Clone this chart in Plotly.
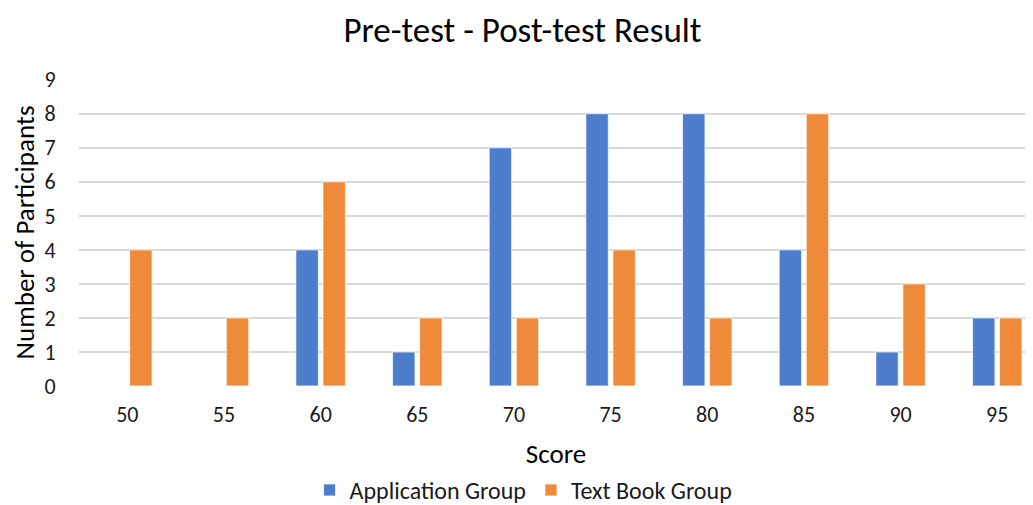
import plotly.graph_objects as go

scores = ["50", "55", "60", "65", "70", "75", "80", "85", "90", "95"]
application_group = [0, 0, 4, 1, 7, 8, 8, 4, 1, 2]
text_book_group = [4, 2, 6, 2, 2, 4, 2, 8, 3, 2]
y_ticks = list(range(0, 10))

FONT = "Calibri, Carlito, Lato, sans-serif"

fig = go.Figure()
fig.add_trace(go.Bar(
    name="Application Group", x=scores, y=application_group,
    marker=dict(color="#4E7ECB", line=dict(color="white", width=0.75)),
))
fig.add_trace(go.Bar(
    name="Text Book Group", x=scores, y=text_book_group,
    marker=dict(color="#EF8A3B", line=dict(color="white", width=0.75)),
))

# The page body adds an 8px offset, so the figure is 8px smaller than the window.
fig.update_layout(
    width=1025, height=497,
    margin=dict(l=71, r=0, t=71, b=119, autoexpand=False),
    paper_bgcolor="white", plot_bgcolor="white",
    font=dict(family=FONT, size=22, color="#1a1a1a"),
    title=dict(text="Pre-test - Post-test Result", x=0.502, xanchor="center",
               xref="container", yref="container",
               y=0.957, yanchor="middle", font=dict(size=35, color="black")),
    barmode="group", bargap=0.44, bargroupgap=0.17,
    legend=dict(orientation="h", x=0.466, xanchor="center", xref="paper",
                y=-0.34, yanchor="middle", font=dict(size=24, color="#1a1a1a"),
                traceorder="normal", itemwidth=30),
    showlegend=True,
)
fig.update_xaxes(
    type="category", range=[-0.5, 9.37], automargin=False,
    showgrid=False, showline=False, zeroline=False,
    ticks="outside", ticklen=9, tickcolor="rgba(0,0,0,0)",
    tickfont=dict(size=22, color="#1a1a1a"),
    title=dict(text="Score", font=dict(size=27, color="black"), standoff=16),
)
fig.update_yaxes(
    range=[0, 9.02], tickvals=y_ticks, automargin=False,
    showgrid=True, gridcolor="#D9D9D9", gridwidth=1.5,
    zeroline=False, showline=False,
    ticks="outside", ticklen=18, tickcolor="rgba(0,0,0,0)",
    tickfont=dict(size=22, color="#1a1a1a"),
    title=dict(text="Number of Participants", font=dict(size=27, color="black"), standoff=8),
)

fig.write_html("out.html")
